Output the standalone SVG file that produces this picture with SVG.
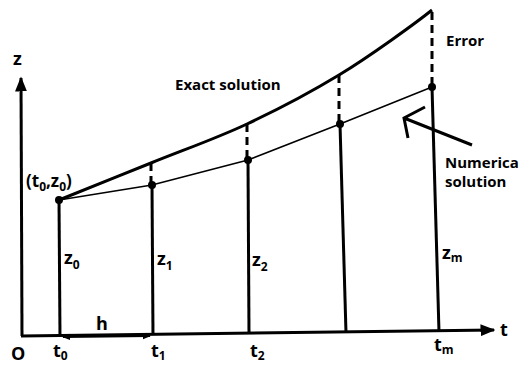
<svg xmlns="http://www.w3.org/2000/svg" width="519" height="365" viewBox="0 0 519 365">
<defs>
<marker id="ah" viewBox="0 0 10 10" refX="9" refY="5" markerWidth="5" markerHeight="5" orient="auto-start-reverse" markerUnits="strokeWidth"><path d="M0,1 L10,5 L0,9 z" fill="#000"/></marker>
<marker id="sh" viewBox="0 0 10 10" refX="9" refY="5" markerWidth="4" markerHeight="4" orient="auto-start-reverse" markerUnits="strokeWidth"><path d="M0,1 L10,5 L0,9 z" fill="#000"/></marker>
</defs>
<style>
.ax{stroke:#000;stroke-width:3;fill:none}
.v{stroke:#000;stroke-width:3;fill:none}
.d{stroke:#000;stroke-width:3;fill:none;stroke-dasharray:8 5}
.lbl{font-family:"Open Sans","DejaVu Sans",sans-serif;font-weight:bold;fill:#000}
.s{font-size:15px}
.m{font-size:18px}
.sub{font-size:12px}
</style>
<rect width="519" height="365" fill="#fff"/>
<g id="connectors">
<line class="ax" x1="22" y1="336" x2="21" y2="78" marker-end="url(#ah)"/>
<line class="ax" x1="21" y1="336" x2="494" y2="330" marker-end="url(#ah)"/>
<line x1="63" y1="337" x2="150" y2="336" stroke="#000" stroke-width="2" marker-start="url(#sh)" marker-end="url(#sh)"/>
<line class="v" x1="59" y1="200" x2="60" y2="336"/>
<line class="v" x1="152" y1="185" x2="153" y2="335"/>
<line class="v" x1="248" y1="160" x2="249" y2="334"/>
<line class="v" x1="340" y1="124" x2="346" y2="333"/>
<line class="v" x1="432" y1="87" x2="439" y2="332"/>
<line class="d" x1="151" y1="163" x2="151" y2="185"/>
<line class="d" x1="247" y1="124" x2="247" y2="160"/>
<line class="d" x1="339" y1="75" x2="339" y2="124"/>
<line class="d" x1="432" y1="12" x2="432" y2="87"/>
<path id="exact" d="M59,200 C74.3,193.8 119.7,175.7 151,163 C182.3,150.3 215.7,138.7 247,124 C278.3,109.3 308.2,93.7 339,75 C369.8,56.3 416.5,22.5 432,10" fill="none" stroke="#000" stroke-width="3"/>
<polyline id="numerical" points="59,200 152,185 248,160 340,124 432,87" fill="none" stroke="#000" stroke-width="1.6"/>
<path d="M472,145 L404,118 M425,107 L404,118 L408,138" fill="none" stroke="#000" stroke-width="3"/>
</g>
<g id="points" fill="#000">
<circle cx="59" cy="200" r="4"/>
<circle cx="152" cy="185" r="4"/>
<circle cx="248" cy="160" r="4"/>
<circle cx="340" cy="124" r="4"/>
<circle cx="432" cy="87" r="4"/>
</g>
<g id="labels">
<text class="lbl m" x="13" y="65">z</text>
<text class="lbl m" x="500" y="336">t</text>
<text class="lbl m" x="11" y="360">O</text>
<text class="lbl s" x="175" y="90">Exact solution</text>
<text class="lbl s" x="446" y="46">Error</text>
<text class="lbl s" x="445" y="168">Numerica</text>
<text class="lbl s" x="445" y="187">solution</text>
<text class="lbl" x="26" y="187" font-size="17">(t<tspan class="sub" dy="4">0</tspan><tspan dy="-4">,z</tspan><tspan class="sub" dy="4">0</tspan><tspan dy="-4">)</tspan></text>
<text class="lbl m" x="64" y="264">z<tspan class="sub" dy="5">0</tspan></text>
<text class="lbl m" x="157" y="265">z<tspan class="sub" dy="5">1</tspan></text>
<text class="lbl m" x="252" y="266">z<tspan class="sub" dy="5">2</tspan></text>
<text class="lbl m" x="442" y="259">z<tspan class="sub" dy="3">m</tspan></text>
<text class="lbl m" x="96" y="330">h</text>
<text class="lbl m" x="53" y="357">t<tspan class="sub" dy="3">0</tspan></text>
<text class="lbl m" x="151" y="357">t<tspan class="sub" dy="3">1</tspan></text>
<text class="lbl m" x="250" y="357">t<tspan class="sub" dy="3">2</tspan></text>
<text class="lbl m" x="434" y="351">t<tspan class="sub" dy="3">m</tspan></text>
</g>
</svg>
